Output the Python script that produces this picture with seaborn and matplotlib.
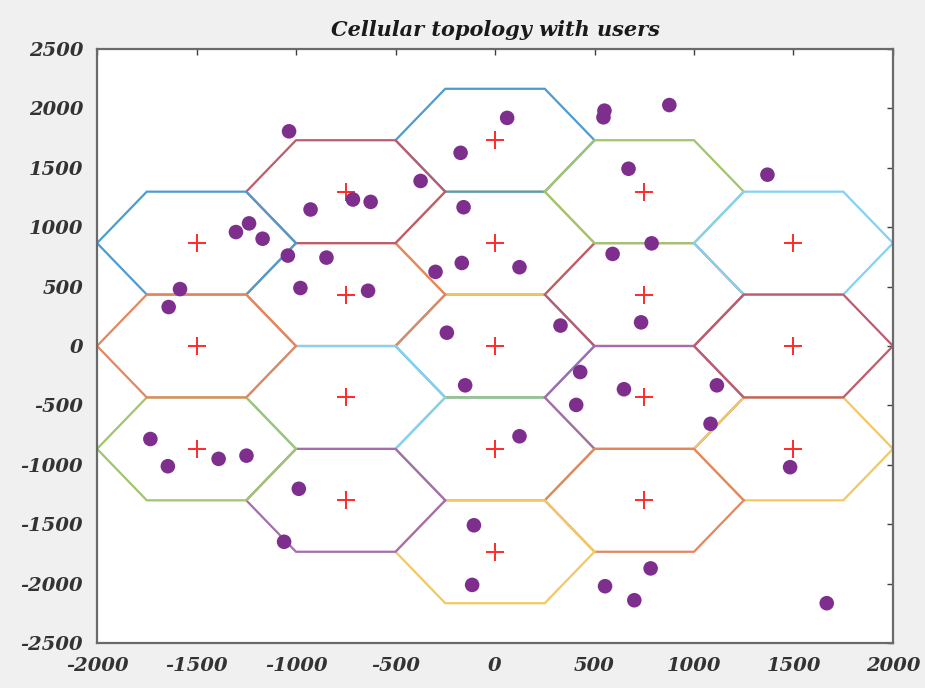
import numpy as np
import pandas as pd
import matplotlib
matplotlib.use("Agg")
import matplotlib.pyplot as plt
import matplotlib.colors as mcolors
import seaborn as sns

# raio da célula (centro -> vértice)
cell_radius = 500

# centros das células, na ordem em que são desenhadas
center_x = [0, 0, -750, 750, 0, -750, 750,
            0, -750, -1500, 750, 1500, 1500, 1500, 750, 0, -750, -1500, -1500]
center_y = [0, 866, 433, 433, -866, -433, -433,
            1732, 1299, 866, 1299, 866, -866, 0, -1299, -1732, -1299, -866, 0]
cell_colors = ["#0072BD", "#EDB120", "#D95319", "#A2142F", "#77AC30", "#4DBEEE", "#7E2F8E",
               "#0072BD", "#A2142F", "#0072BD", "#77AC30", "#4DBEEE", "#EDB120", "#A2142F",
               "#D95319", "#EDB120", "#7E2F8E", "#77AC30", "#D95319"]

# posições dos usuários
user_x = [-1035, -1302, -1236, -1168, -927, -714, -625, -374, -173, 61,
          -158, -167, -299, -1041, -847, -978, -638, -1583, -1640, -242,
          550, 545, 876, 671, 1369, 787, 591, 123, 329, 734,
          -150, -1732, -1644, -1389, -1249, -986, -1060, -106, -115, 428,
          408, 648, 1115, 1083, 123, 1483, 782, 553, 700, 1667]
user_y = [1807, 959, 1032, 903, 1149, 1233, 1213, 1389, 1626, 1920,
          1168, 699, 624, 761, 744, 488, 465, 479, 328, 112,
          1981, 1925, 2028, 1492, 1442, 864, 775, 663, 172, 199,
          -331, -783, -1012, -950, -923, -1202, -1648, -1509, -2011, -219,
          -496, -364, -331, -655, -760, -1020, -1872, -2022, -2140, -2165]

sns.set_theme(style="white")
plt.rcParams['font.family'] = ['DejaVu Serif']
plt.rcParams['font.weight'] = 'bold'
plt.rcParams['font.style'] = 'italic'
plt.rcParams['axes.unicode_minus'] = False

fig = plt.figure(figsize=(9.25, 6.88), dpi=100, facecolor="#f0f0f0")
ax = fig.add_axes([0.1049, 0.0654, 0.8605, 0.8634])
ax.set_facecolor("white")


def clarear(cor, f=0.7):
    # mistura a cor com branco (linhas um pouco desbotadas como no original)
    r, g, b = mcolors.to_rgb(cor)
    return (f * r + 1 - f, f * g + 1 - f, f * b + 1 - f)


# hexágonos
ang = np.deg2rad(np.arange(0, 361, 60))
for cx, cy, col in zip(center_x, center_y, cell_colors):
    ax.plot(cx + cell_radius * np.cos(ang), cy + cell_radius * np.sin(ang),
            color=clarear(col), lw=1.6, solid_joinstyle="miter")

df_centers = pd.DataFrame({"x": center_x, "y": center_y})
df_users = pd.DataFrame({"x": user_x, "y": user_y})

sns.scatterplot(data=df_centers, x="x", y="y", marker="+", s=160, color="#ff2a2a",
                linewidth=1.4, ax=ax, zorder=3)
sns.scatterplot(data=df_users, x="x", y="y", marker="o", s=110, color="#7E2F8E",
                edgecolor="none", ax=ax, zorder=4)

ax.set_xlim(-2000, 2000)
ax.set_ylim(-2500, 2500)
ax.set_xticks(np.arange(-2000, 2001, 500))
ax.set_yticks(np.arange(-2500, 2501, 500))
ax.set_xlabel("")
ax.set_ylabel("")
ax.tick_params(direction="in", length=4.5, width=1, color="#404040",
               top=True, right=True, labelsize=14, labelcolor="#333333", pad=10)
for s in ax.spines.values():
    s.set_color("#6a6a6a")
    s.set_linewidth(1.6)

ax.set_title("Cellular topology with users", fontsize=15, fontweight="bold",
             fontstyle="italic", color="#1a1a1a", pad=9)

fig.savefig("out.png", dpi=100, facecolor=fig.get_facecolor())
